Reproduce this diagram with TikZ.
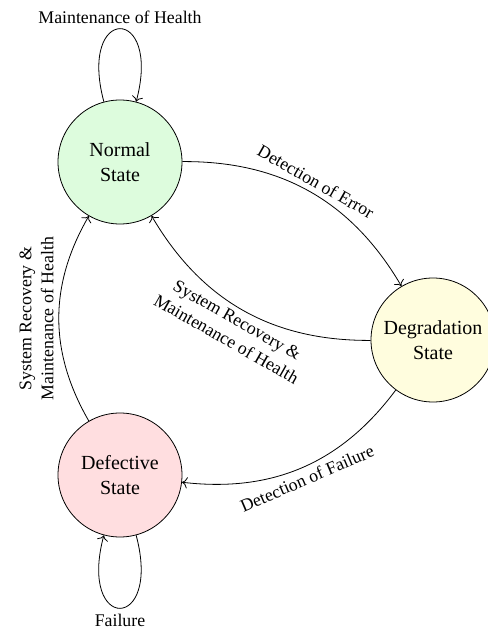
\documentclass[tikz,border=0pt]{standalone}
\usepackage{fontspec}
\setmainfont{Liberation Serif}
\usetikzlibrary{arrows.meta}
\definecolor{normalfill}{RGB}{221,252,221}
\definecolor{degfill}{RGB}{255,253,222}
\definecolor{deffill}{RGB}{255,222,224}
\begin{document}
\begin{tikzpicture}[x=1pt,y=1pt,
  every loop/.style={},
  state/.style={circle,draw,line width=0.8pt,minimum size=124pt,inner sep=0pt,align=center,font=\fontsize{20}{25}\selectfont},
  trans/.style={line width=0.8pt,-{To[scale=1.6]}},
  lab/.style={font=\fontsize{17.8}{22}\selectfont,align=center,inner sep=5pt}]
\clip (0,0) rectangle (488,633);
\node[state,fill=normalfill] (N) at (120,471) {Normal\\State};
\node[state,fill=degfill] (D) at (433,293) {Degradation\\State};
\node[state,fill=deffill] (F) at (120,158) {Defective\\State};
\draw[trans] (N) to[loop above] node[lab,above] {Maintenance of Health} (N);
\draw[trans] (F) to[loop below] node[lab,below] {Failure} (F);
\draw[trans] (N) to[bend left=30] node[lab,sloped,above] {Detection of Error} (D);
\draw[trans] (D) to[bend left=30] node[lab,sloped,below] {System Recovery \&\\Maintenance of Health} (N);
\draw[trans] (D) to[bend left=30] node[lab,sloped,below] {Detection of Failure} (F);
\draw[trans] (F) to[bend left=30] node[lab,sloped,above] {System Recovery \&\\Maintenance of Health} (N);
\end{tikzpicture}
\end{document}
